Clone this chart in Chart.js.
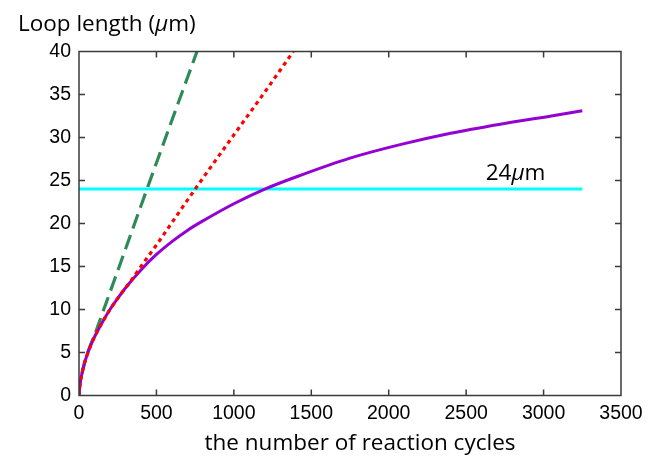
<!DOCTYPE html>
<html>
<head>
<meta charset="utf-8">
<script src="https://cdn.jsdelivr.net/npm/chart.js@4.4.0/dist/chart.umd.min.js"></script>
<style>
  html, body { margin: 0; padding: 0; background: #fff; }
  #wrap { width: 654px; height: 474px; position: relative; }
</style>
</head>
<body>
<div id="wrap"><canvas id="chart"></canvas></div>
<script>
// values
const loopCycles = [0, 5, 15, 30, 50, 75, 100, 150, 200, 250, 300, 400, 500, 600, 700, 800, 1000, 1200, 1430, 1750, 2080, 2400, 2720, 3050, 3250];
const loopLength = [0, 1.1, 2.2, 3.4, 4.6, 5.8, 6.8, 8.5, 10.0, 11.3, 12.5, 14.6, 16.4, 17.9, 19.2, 20.3, 22.3, 24.0, 25.6, 27.6, 29.2, 30.5, 31.55, 32.5, 33.1];

const redCycles = [0, 5, 15, 30, 50, 75, 100, 150, 200, 250, 300, 350, 400, 500, 600, 750, 1000, 1200, 1384];
const redLength = [0, 1.1, 2.2, 3.4, 4.6, 5.8, 6.8, 8.5, 10.0, 11.3, 12.5, 13.7, 15.0, 17.5, 20.1, 24.0, 30.3, 35.3, 40.0];

const greenCycles = [0, 5, 15, 30, 50, 75, 100, 150, 250, 439, 600, 762];
const greenLength = [0, 1.1, 2.2, 3.4, 4.7, 5.9, 7.0, 9.5, 14.5, 24.0, 32.0, 40.0];

const limitCycles = [0, 3250];
const limitLength = [24, 24];

const xTickValues = [0, 500, 1000, 1500, 2000, 2500, 3000, 3500];
const yTickValues = [0, 5, 10, 15, 20, 25, 30, 35, 40];

const toPoints = (xs, ys) => xs.map((x, i) => ({ x: x, y: ys[i] }));

const textFont = '"Open Sans", "Lato", sans-serif';
const tickFont = { family: '"Liberation Sans", Arial, sans-serif', size: 19.5 };

// draw a string made of plain and italic pieces
const drawParts = (ctx, parts, x, y, size, align) => {
  const fontOf = p => (p.italic ? 'italic ' : '') + size + 'px ' + textFont;
  let total = 0;
  parts.forEach(p => { ctx.font = fontOf(p); total += ctx.measureText(p.t).width; });
  let cx = align === 'center' ? x - total / 2 : x;
  ctx.textAlign = 'left';
  ctx.textBaseline = 'alphabetic';
  parts.forEach(p => {
    ctx.font = fontOf(p);
    ctx.fillText(p.t, cx, y);
    cx += ctx.measureText(p.t).width;
  });
};

// box around the plot, inward ticks and the texts
const framePlugin = {
  id: 'frame',
  afterDatasetsDraw(chart) {
    const { ctx, chartArea: a, scales } = chart;
    ctx.save();
    ctx.strokeStyle = '#3a3a3a';
    ctx.lineWidth = 1.5;
    ctx.strokeRect(a.left, a.top, a.right - a.left, a.bottom - a.top);
    ctx.beginPath();
    scales.x.ticks.forEach(t => {
      const px = scales.x.getPixelForValue(t.value);
      if (px <= a.left + 1 || px >= a.right - 1) return;
      ctx.moveTo(px, a.bottom); ctx.lineTo(px, a.bottom - 6);
      ctx.moveTo(px, a.top); ctx.lineTo(px, a.top + 6);
    });
    scales.y.ticks.forEach(t => {
      const py = scales.y.getPixelForValue(t.value);
      if (py <= a.top + 1 || py >= a.bottom - 1) return;
      ctx.moveTo(a.left, py); ctx.lineTo(a.left + 6, py);
      ctx.moveTo(a.right, py); ctx.lineTo(a.right - 6, py);
    });
    ctx.stroke();

    ctx.fillStyle = '#000';
    drawParts(ctx, [{ t: 'Loop length (' }, { t: 'μ', italic: true }, { t: 'm)' }], 18, 31, 22.5, 'left');
    drawParts(ctx, [{ t: 'the number of reaction cycles' }], 360, 450, 22.5, 'center');
    drawParts(ctx, [{ t: '24' }, { t: 'μ', italic: true }, { t: 'm' }],
      scales.x.getPixelForValue(2626), scales.y.getPixelForValue(25.05), 22.5, 'left');
    ctx.restore();
  }
};

const config = {
  type: 'scatter',
  data: {
    datasets: [
      {
        label: 'red',
        data: toPoints(redCycles, redLength),
        borderColor: '#ff0000',
        borderWidth: 3.2,
        borderDash: [4, 4],
        cubicInterpolationMode: 'monotone',
      },
      {
        label: 'loop',
        data: toPoints(loopCycles, loopLength),
        borderColor: '#9400d3',
        borderWidth: 3,
        cubicInterpolationMode: 'monotone',
      },
      {
        label: 'limit',
        data: toPoints(limitCycles, limitLength),
        borderColor: '#00ffff',
        borderWidth: 3,
      },
      {
        label: 'green',
        data: toPoints(greenCycles, greenLength),
        borderColor: '#2e8b57',
        borderWidth: 3.2,
        borderDash: [15, 7],
        cubicInterpolationMode: 'monotone',
      },
    ]
  },
  options: {
    responsive: true,
    maintainAspectRatio: false,
    animation: false,
    showLine: true,
    elements: { point: { radius: 0, hoverRadius: 0 } },
    layout: { padding: { left: 0, right: 33, top: 51.5, bottom: 0 } },
    plugins: {
      legend: { display: false },
      tooltip: { enabled: false },
    },
    scales: {
      x: {
        type: 'linear',
        min: 0,
        max: 3500,
        grid: { display: false, drawTicks: false },
        border: { display: false },
        afterBuildTicks: scale => { scale.ticks = xTickValues.map(v => ({ value: v })); },
        afterFit: scale => { scale.height = 78.5; },
        ticks: {
          padding: 6,
          color: '#000',
          maxRotation: 0,
          font: tickFont,
          callback: value => String(value),
        },
      },
      y: {
        type: 'linear',
        min: 0,
        max: 40,
        grid: { display: false, drawTicks: false },
        border: { display: false },
        afterBuildTicks: scale => { scale.ticks = yTickValues.map(v => ({ value: v })); },
        afterFit: scale => { scale.width = 79; },
        ticks: {
          padding: 8,
          color: '#000',
          font: tickFont,
          callback: value => String(value),
        },
      },
    },
  },
  plugins: [framePlugin],
};

const chart = new Chart(document.getElementById('chart'), config);
</script>
</body>
</html>
